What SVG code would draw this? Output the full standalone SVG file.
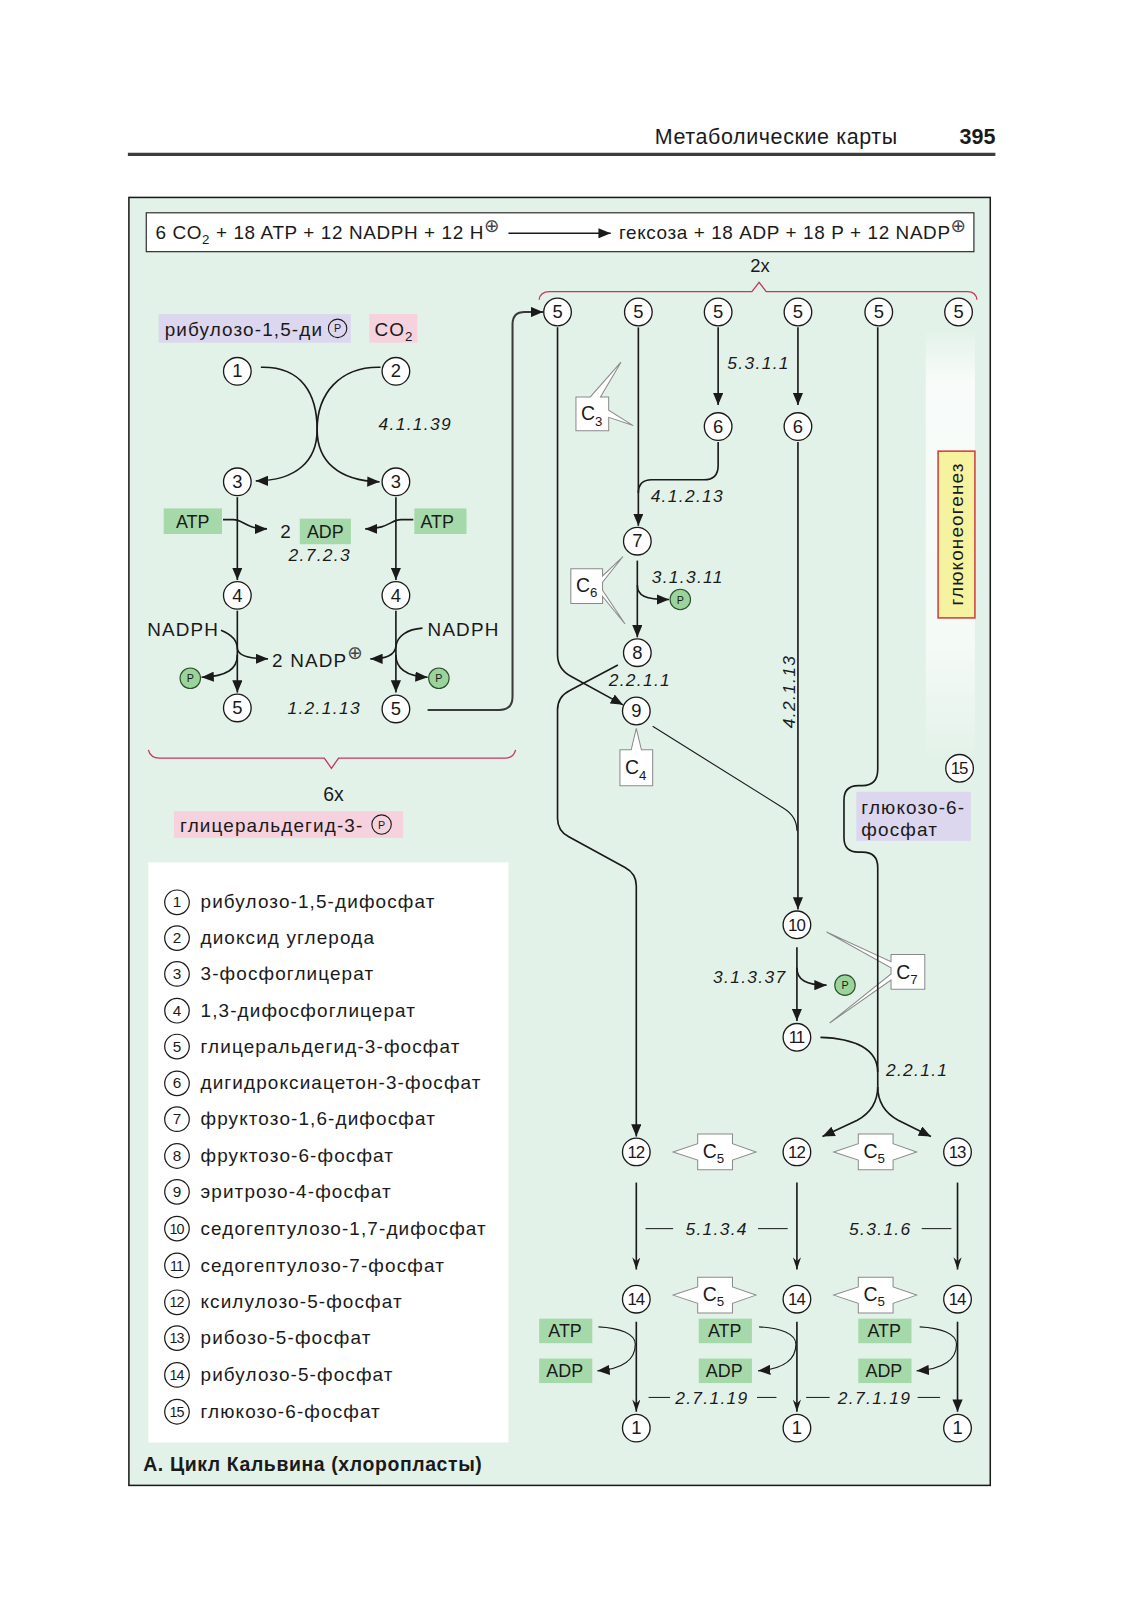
<svg xmlns="http://www.w3.org/2000/svg" width="1132" height="1601" viewBox="0 0 1132 1601">
<defs>
<style>
text{font-family:"Liberation Sans",Arial,sans-serif;fill:#1a1a1a}
.t{font-size:18.5px;letter-spacing:1.1px}
.eq{font-size:18.5px;letter-spacing:0.6px}
.ec{font-size:17px;font-style:italic;letter-spacing:1.3px}
.n{fill:#fff;stroke:#1a1a1a;stroke-width:1.3}
.nt{font-size:18px;text-anchor:middle}
.nt2{font-size:16.5px;text-anchor:middle;letter-spacing:-1px}
.ln{fill:none;stroke:#1a1a1a;stroke-width:1.6}
.thin{fill:none;stroke:#1a1a1a;stroke-width:1.1}
.co{fill:#fff;stroke:#8a8a8a;stroke-width:1}
.ct{font-size:19px}
.cs{font-size:13px}
.gl{fill:#a6d9a9}
.gt{font-size:17.5px}
.pc{fill:#9ad49b;stroke:#2b4f2b;stroke-width:1.1}
.pt{font-size:10.5px;text-anchor:middle}
.cp{fill:none;stroke:#1a1a1a;stroke-width:1.1}
.br{fill:none;stroke:#c3385d;stroke-width:1.3}
.lc{fill:#fff;stroke:#1a1a1a;stroke-width:1.2}
.lnum{font-size:15px;text-anchor:middle}
.lnum2{font-size:14px;text-anchor:middle;letter-spacing:-1px}
.sym{font-family:"DejaVu Sans",sans-serif;font-size:18px;fill:#444}
.dash{stroke:#1a1a1a;stroke-width:1}
</style>
<marker id="ah" viewBox="0 0 12 10" refX="12" refY="5" markerWidth="12" markerHeight="10" markerUnits="userSpaceOnUse" orient="auto"><path d="M0,0 L12,5 L0,10 Z" fill="#1a1a1a"/></marker>
<marker id="an" viewBox="0 0 12 8" refX="12" refY="4" markerWidth="12" markerHeight="8" markerUnits="userSpaceOnUse" orient="auto"><path d="M0,0 L12,4 L0,8 L4,4 Z" fill="#1a1a1a"/></marker>
<linearGradient id="wg" x1="0" y1="0" x2="0" y2="1"><stop offset="0" stop-color="#fff" stop-opacity="0"/><stop offset="0.12" stop-color="#fff" stop-opacity="0.75"/><stop offset="0.75" stop-color="#fff" stop-opacity="0.6"/><stop offset="1" stop-color="#fff" stop-opacity="0"/></linearGradient>
<path id="c5" d="M-17,-17.5 L17,-17.5 L17,-8 L40,0 L17,8 L17,17.5 L-17,17.5 L-17,8 L-41,0 L-17,-8 Z"/>
</defs>
<rect x="0" y="0" width="1132" height="1601" fill="#fff"/>
<g transform="scale(1.023)">
<g id="header">
<text x="640" y="141" font-size="21" letter-spacing="0.6">Метаболические карты</text>
<text x="973" y="141" font-size="21" font-weight="bold" text-anchor="end">395</text>
<line x1="125" y1="151" x2="973" y2="151" stroke="#3d3d3d" stroke-width="3.2"/>
</g>
<rect id="frame" x="126" y="193" width="842" height="1259" fill="#e3f2e9" stroke="#1a1a1a" stroke-width="1.5"/>
<rect x="905" y="322" width="48" height="420" fill="url(#wg)"/>

<g id="equation">
<rect x="143" y="208" width="809" height="38" fill="#fff" stroke="#333" stroke-width="1.2"/>
<text x="152" y="234" class="eq">6 CO<tspan font-size="13" dy="5">2</tspan><tspan dy="-5"> + 18 ATP + 12 NADPH + 12 H</tspan><tspan class="sym" dy="-7">⊕</tspan></text>
<line x1="497" y1="228" x2="597" y2="228" class="ln" marker-end="url(#ah)"/>
<text x="605" y="234" class="eq">гексоза + 18 ADP + 18 P + 12 NADP<tspan class="sym" dy="-7">⊕</tspan></text>
</g>

<g id="brace-top">
<text x="743" y="266" font-size="18" text-anchor="middle">2x</text>
<path class="br" d="M527,293 Q528,285 537,285 L735,285 L742,276 L749,285 L946,285 Q954,285 955,293"/>
</g>

<g id="label-rubp">
<rect x="155" y="307" width="188" height="28" fill="#dcd7ef"/>
<text x="161" y="328" class="t" letter-spacing="1.5">рибулозо-1,5-ди</text>
<circle cx="330" cy="321" r="9" class="cp"/>
<text x="330" y="325" class="pt">P</text>
</g>
<g id="label-co2">
<rect x="361" y="307" width="47" height="28" fill="#f6d2de"/>
<text x="366" y="328" class="t">CO<tspan font-size="13" dy="5">2</tspan></text>
</g>

<g id="left-cofactors">
<rect x="160" y="497" width="57" height="25" class="gl"/>
<text x="172" y="516" class="gt">ATP</text>
<rect x="405" y="497" width="51" height="25" class="gl"/>
<text x="411" y="516" class="gt">ATP</text>
<text x="274" y="526" class="t">2</text>
<rect x="293" y="507" width="50" height="25" class="gl"/>
<text x="300" y="526" class="gt">ADP</text>
<text x="144" y="622" class="t">NADPH</text>
<text x="418" y="622" class="t">NADPH</text>
<text x="266" y="652" class="t">2 NADP<tspan class="sym" dy="-8">⊕</tspan></text>
<circle cx="186" cy="663" r="10" class="pc"/><text x="186" y="667" class="pt">P</text>
<circle cx="429" cy="663" r="10" class="pc"/><text x="429" y="667" class="pt">P</text>
</g>

<g id="enzymes-left">
<text x="370" y="420" class="ec">4.1.1.39</text>
<text x="282" y="548" class="ec">2.7.2.3</text>
<text x="281" y="698" class="ec">1.2.1.13</text>
</g>

<g id="n1-top"><circle class="n" cx="232" cy="363" r="13.5"/><text class="nt" x="232" y="369">1</text></g>
<g id="n2-top"><circle class="n" cx="387" cy="363" r="13.5"/><text class="nt" x="387" y="369">2</text></g>
<g id="n3-left"><circle class="n" cx="232" cy="471" r="13.5"/><text class="nt" x="232" y="477">3</text></g>
<g id="n3-right"><circle class="n" cx="387" cy="471" r="13.5"/><text class="nt" x="387" y="477">3</text></g>
<g id="n4-left"><circle class="n" cx="232" cy="582" r="13.5"/><text class="nt" x="232" y="588">4</text></g>
<g id="n4-right"><circle class="n" cx="387" cy="582" r="13.5"/><text class="nt" x="387" y="588">4</text></g>
<g id="n5-left"><circle class="n" cx="232" cy="692" r="13.5"/><text class="nt" x="232" y="698">5</text></g>
<g id="n5-right"><circle class="n" cx="387" cy="693" r="13.5"/><text class="nt" x="387" y="699">5</text></g>

<g id="brace-bottom">
<path class="br" d="M145,733 Q147,741 156,741 L317,741 L324,751 L331,741 L494,741 Q502,741 504,733"/>
<text x="326" y="783" font-size="19" text-anchor="middle">6x</text>
</g>
<g id="label-gap">
<rect x="170" y="793" width="224" height="26" fill="#f6d2de"/>
<text x="176" y="813" class="t" letter-spacing="1.4">глицеральдегид-3-</text>
<circle cx="373" cy="806" r="9.5" class="cp"/>
<text x="373" y="810" class="pt">P</text>
</g>

<g id="legend">
<rect x="145" y="843" width="352" height="567" fill="#fff"/>
<g><circle class="lc" cx="173" cy="882" r="12"/><text class="lnum" x="173" y="887">1</text><text class="t" x="196" y="888">рибулозо-1,5-дифосфат</text></g>
<g><circle class="lc" cx="173" cy="917" r="12"/><text class="lnum" x="173" y="922">2</text><text class="t" x="196" y="923">диоксид углерода</text></g>
<g><circle class="lc" cx="173" cy="952" r="12"/><text class="lnum" x="173" y="957">3</text><text class="t" x="196" y="958">3-фосфоглицерат</text></g>
<g><circle class="lc" cx="173" cy="988" r="12"/><text class="lnum" x="173" y="993">4</text><text class="t" x="196" y="994">1,3-дифосфоглицерат</text></g>
<g><circle class="lc" cx="173" cy="1023" r="12"/><text class="lnum" x="173" y="1028">5</text><text class="t" x="196" y="1029">глицеральдегид-3-фосфат</text></g>
<g><circle class="lc" cx="173" cy="1059" r="12"/><text class="lnum" x="173" y="1064">6</text><text class="t" x="196" y="1065">дигидроксиацетон-3-фосфат</text></g>
<g><circle class="lc" cx="173" cy="1094" r="12"/><text class="lnum" x="173" y="1099">7</text><text class="t" x="196" y="1100">фруктозо-1,6-дифосфат</text></g>
<g><circle class="lc" cx="173" cy="1130" r="12"/><text class="lnum" x="173" y="1135">8</text><text class="t" x="196" y="1136">фруктозо-6-фосфат</text></g>
<g><circle class="lc" cx="173" cy="1165" r="12"/><text class="lnum" x="173" y="1170">9</text><text class="t" x="196" y="1171">эритрозо-4-фосфат</text></g>
<g><circle class="lc" cx="173" cy="1201" r="12"/><text class="lnum2" x="172.5" y="1206">10</text><text class="t" x="196" y="1207">седогептулозо-1,7-дифосфат</text></g>
<g><circle class="lc" cx="173" cy="1237" r="12"/><text class="lnum2" x="172.5" y="1242">11</text><text class="t" x="196" y="1243">седогептулозо-7-фосфат</text></g>
<g><circle class="lc" cx="173" cy="1273" r="12"/><text class="lnum2" x="172.5" y="1278">12</text><text class="t" x="196" y="1279">ксилулозо-5-фосфат</text></g>
<g><circle class="lc" cx="173" cy="1308" r="12"/><text class="lnum2" x="172.5" y="1313">13</text><text class="t" x="196" y="1314">рибозо-5-фосфат</text></g>
<g><circle class="lc" cx="173" cy="1344" r="12"/><text class="lnum2" x="172.5" y="1349">14</text><text class="t" x="196" y="1350">рибулозо-5-фосфат</text></g>
<g><circle class="lc" cx="173" cy="1380" r="12"/><text class="lnum2" x="172.5" y="1385">15</text><text class="t" x="196" y="1386">глюкозо-6-фосфат</text></g>
</g>
<text id="title" x="140" y="1438" font-size="19" font-weight="bold" letter-spacing="0.6">А. Цикл Кальвина (хлоропласты)</text>

<g id="callouts">
<g id="c3"><path class="co" d="M563,388 L577,388 L607,354 L587,388 L595,388 L595,401 L619,416 L595,408 L595,421 L563,421 Z"/><text x="568" y="411" class="ct">C<tspan class="cs" dy="5">3</tspan></text></g>
<g id="c6"><path class="co" d="M558,556 L589,556 L589,563 L609,544 L589,569 L589,577 L611,610 L589,583 L589,590 L558,590 Z"/><text x="563" y="579" class="ct">C<tspan class="cs" dy="5">6</tspan></text></g>
<g id="c4"><path class="co" d="M606,733 L617,733 L622,712 L627,733 L638,733 L638,768 L606,768 Z"/><text x="611" y="757" class="ct">C<tspan class="cs" dy="5">4</tspan></text></g>
<g id="c7"><path class="co" d="M871,933 L904,933 L904,967 L871,967 L871,958 L811,1000 L871,952 L871,946 L808,911 L871,940 Z"/><text x="876" y="957" class="ct">C<tspan class="cs" dy="5">7</tspan></text></g>
<g id="c5a"><use href="#c5" x="699" y="1126" class="co"/><text x="687" y="1132" class="ct">C<tspan class="cs" dy="5">5</tspan></text></g>
<g id="c5b"><use href="#c5" x="856" y="1126" class="co"/><text x="844" y="1132" class="ct">C<tspan class="cs" dy="5">5</tspan></text></g>
<g id="c5c"><use href="#c5" x="699" y="1266" class="co"/><text x="687" y="1272" class="ct">C<tspan class="cs" dy="5">5</tspan></text></g>
<g id="c5d"><use href="#c5" x="856" y="1266" class="co"/><text x="844" y="1272" class="ct">C<tspan class="cs" dy="5">5</tspan></text></g>
</g>

<g id="gluconeogenesis">
<rect x="917" y="441" width="36" height="163" fill="#f6f3a0" stroke="#d23c3c" stroke-width="1.5"/>
<text transform="translate(941,522) rotate(-90)" class="t" text-anchor="middle">глюконеогенез</text>
</g>
<g id="label-g6p">
<rect x="837" y="774" width="112" height="48" fill="#dcd7ef"/>
<text x="842" y="796" class="t">глюкозо-6-</text>
<text x="842" y="817" class="t">фосфат</text>
</g>

<g id="connectors">
<path class="ln" d="M255,359 C295,358 310,385 310,420 C310,450 330,470 371,471" marker-end="url(#ah)"/>
<path class="ln" d="M372,359 C332,358 310,385 310,420 C310,450 290,470 250,470" marker-end="url(#ah)"/>
<path class="ln" d="M232,486 L232,567" marker-end="url(#ah)"/>
<path class="ln" d="M387,486 L387,567" marker-end="url(#ah)"/>
<path class="ln" d="M218,508 L228,508 C238,508 240,517 261,517" marker-end="url(#ah)"/>
<path class="ln" d="M404,508 L392,508 C382,508 380,517 357,517" marker-end="url(#ah)"/>
<path class="ln" d="M232,597 L232,677" marker-end="url(#ah)"/>
<path class="ln" d="M387,597 L387,677" marker-end="url(#ah)"/>
<path class="ln" d="M216,616 C226,620 232,626 232,634 C233,641 245,644 262,644" marker-end="url(#ah)"/>
<path class="ln" d="M232,640 C232,654 222,661 197,662" marker-end="url(#ah)"/>
<path class="ln" d="M413,614 C398,615 388,622 387,632 C386,640 378,644 362,644" marker-end="url(#ah)"/>
<path class="ln" d="M387,640 C387,654 397,661 418,662" marker-end="url(#ah)"/>
<path d="M418,694 L488,694 Q501,694 501,681 L501,317 Q501,305 513,305 L531,305" fill="none" stroke="#3a3a3a" stroke-width="2" marker-end="url(#ah)"/>

<path class="ln" d="M545,320 L545,640 Q545,654 558,661 L609,689" marker-end="url(#ah)"/>
<path class="ln" d="M624,320 L624,514" marker-end="url(#ah)"/>
<path class="ln" d="M702,432 L702,455 Q702,469 688,469 L637,469 Q624,469 624,482"/>
<path class="ln" d="M702,320 L702,396" marker-end="url(#ah)"/>
<path class="ln" d="M780,320 L780,396" marker-end="url(#ah)"/>
<path class="ln" d="M780,432 L780,889" marker-end="url(#ah)"/>
<path class="ln" d="M623,548 L623,623" marker-end="url(#ah)"/>
<path class="ln" d="M623,572 C623,582 630,586 654,586" marker-end="url(#ah)"/>
<path class="ln" d="M604,650 L557,675 Q545,681 545,694 L545,800 Q545,812 556,818 L611,848 Q622,854 622,866 L622,1111" marker-end="url(#ah)"/>
<path class="thin" d="M638,710 L766,790 Q779,798 779,812"/>
<path class="ln" d="M858,320 L858,752 Q858,768 843,768 L839,768 Q825,768 825,782 L825,819 Q825,833 839,833 L843,833 Q858,833 858,848 L858,1062"/>
<path class="ln" d="M858,1062 Q858,1084 838,1095 L804,1111" marker-end="url(#ah)"/>
<path class="ln" d="M858,1062 Q858,1084 878,1095 L910,1111" marker-end="url(#ah)"/>
<path class="ln" d="M802,1014 C835,1015 858,1025 858,1048"/>
<path class="ln" d="M779,926 L779,998" marker-end="url(#ah)"/>
<path class="ln" d="M779,946 C779,958 788,963 808,963" marker-end="url(#ah)"/>

<path class="ln" d="M622,1156 L622,1241" marker-end="url(#an)"/>
<path class="ln" d="M779,1156 L779,1241" marker-end="url(#an)"/>
<path class="ln" d="M936,1156 L936,1241" marker-end="url(#an)"/>
<path class="ln" d="M622,1292 L622,1380" marker-end="url(#an)"/>
<path class="ln" d="M779,1292 L779,1380" marker-end="url(#an)"/>
<path class="ln" d="M936,1292 L936,1380" marker-end="url(#ah)"/>
<path class="thin" d="M585,1297 C606,1298 621,1304 621,1314 C621,1328 610,1338 584,1340" marker-end="url(#ah)"/>
<path class="thin" d="M742,1297 C763,1298 778,1304 778,1314 C778,1328 767,1338 741,1340" marker-end="url(#ah)"/>
<path class="thin" d="M899,1297 C920,1298 935,1304 935,1314 C935,1328 924,1338 896,1340" marker-end="url(#ah)"/>
<line class="dash" x1="631" y1="1201" x2="658" y2="1201"/>
<line class="dash" x1="741" y1="1201" x2="770" y2="1201"/>
<line class="dash" x1="901" y1="1201" x2="930" y2="1201"/>
<line class="dash" x1="634" y1="1366" x2="655" y2="1366"/>
<line class="dash" x1="740" y1="1366" x2="759" y2="1366"/>
<line class="dash" x1="788" y1="1366" x2="811" y2="1366"/>
<line class="dash" x1="897" y1="1366" x2="919" y2="1366"/>
</g>

<g id="enzymes-right">
<text x="711" y="361" class="ec">5.3.1.1</text>
<text x="636" y="491" class="ec">4.1.2.13</text>
<text x="637" y="570" class="ec">3.1.3.11</text>
<text x="595" y="671" class="ec">2.2.1.1</text>
<text transform="translate(777,676) rotate(-90)" class="ec" text-anchor="middle">4.2.1.13</text>
<text x="697" y="961" class="ec">3.1.3.37</text>
<text x="866" y="1052" class="ec">2.2.1.1</text>
<text x="670" y="1207" class="ec">5.1.3.4</text>
<text x="830" y="1207" class="ec">5.3.1.6</text>
<text x="660" y="1372" class="ec">2.7.1.19</text>
<text x="819" y="1372" class="ec">2.7.1.19</text>
</g>

<g id="right-cofactors">
<circle cx="665" cy="586" r="10" class="pc"/><text x="665" y="590" class="pt">P</text>
<circle cx="826" cy="963" r="10" class="pc"/><text x="826" y="967" class="pt">P</text>
<rect x="527" y="1289" width="52" height="24" class="gl"/><text x="536" y="1307" class="gt">ATP</text>
<rect x="527" y="1328" width="52" height="24" class="gl"/><text x="534" y="1346" class="gt">ADP</text>
<rect x="683" y="1289" width="52" height="24" class="gl"/><text x="692" y="1307" class="gt">ATP</text>
<rect x="683" y="1328" width="52" height="24" class="gl"/><text x="690" y="1346" class="gt">ADP</text>
<rect x="839" y="1289" width="52" height="24" class="gl"/><text x="848" y="1307" class="gt">ATP</text>
<rect x="839" y="1328" width="52" height="24" class="gl"/><text x="846" y="1346" class="gt">ADP</text>
</g>

<g id="n5-a"><circle class="n" cx="545" cy="305" r="13.5"/><text class="nt" x="545" y="311">5</text></g>
<g id="n5-b"><circle class="n" cx="624" cy="305" r="13.5"/><text class="nt" x="624" y="311">5</text></g>
<g id="n5-c"><circle class="n" cx="702" cy="305" r="13.5"/><text class="nt" x="702" y="311">5</text></g>
<g id="n5-d"><circle class="n" cx="780" cy="305" r="13.5"/><text class="nt" x="780" y="311">5</text></g>
<g id="n5-e"><circle class="n" cx="859" cy="305" r="13.5"/><text class="nt" x="859" y="311">5</text></g>
<g id="n5-f"><circle class="n" cx="937" cy="305" r="13.5"/><text class="nt" x="937" y="311">5</text></g>
<g id="n6-a"><circle class="n" cx="702" cy="417" r="13.5"/><text class="nt" x="702" y="423">6</text></g>
<g id="n6-b"><circle class="n" cx="780" cy="417" r="13.5"/><text class="nt" x="780" y="423">6</text></g>
<g id="n7"><circle class="n" cx="623" cy="529" r="13.5"/><text class="nt" x="623" y="535">7</text></g>
<g id="n8"><circle class="n" cx="623" cy="638" r="13.5"/><text class="nt" x="623" y="644">8</text></g>
<g id="n9"><circle class="n" cx="622" cy="695" r="13.5"/><text class="nt" x="622" y="701">9</text></g>
<g id="n10"><circle class="n" cx="779" cy="904" r="13.5"/><text class="nt2" x="778.5" y="910">10</text></g>
<g id="n11"><circle class="n" cx="779" cy="1014" r="13.5"/><text class="nt2" x="778.5" y="1020">11</text></g>
<g id="n15"><circle class="n" cx="938" cy="751" r="13.5"/><text class="nt2" x="937.5" y="757">15</text></g>
<g id="n12-a"><circle class="n" cx="622" cy="1126" r="13.5"/><text class="nt2" x="621.5" y="1132">12</text></g>
<g id="n12-b"><circle class="n" cx="779" cy="1126" r="13.5"/><text class="nt2" x="778.5" y="1132">12</text></g>
<g id="n13"><circle class="n" cx="936" cy="1126" r="13.5"/><text class="nt2" x="935.5" y="1132">13</text></g>
<g id="n14-a"><circle class="n" cx="622" cy="1270" r="13.5"/><text class="nt2" x="621.5" y="1276">14</text></g>
<g id="n14-b"><circle class="n" cx="779" cy="1270" r="13.5"/><text class="nt2" x="778.5" y="1276">14</text></g>
<g id="n14-c"><circle class="n" cx="936" cy="1270" r="13.5"/><text class="nt2" x="935.5" y="1276">14</text></g>
<g id="n1-a"><circle class="n" cx="622" cy="1396" r="13.5"/><text class="nt" x="622" y="1402">1</text></g>
<g id="n1-b"><circle class="n" cx="779" cy="1396" r="13.5"/><text class="nt" x="779" y="1402">1</text></g>
<g id="n1-c"><circle class="n" cx="936" cy="1396" r="13.5"/><text class="nt" x="936" y="1402">1</text></g>
</g>
</svg>
